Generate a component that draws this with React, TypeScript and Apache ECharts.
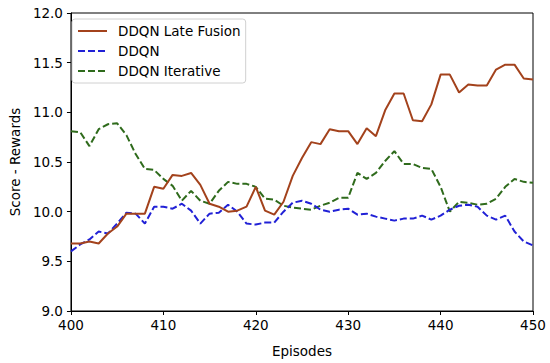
import React, { useEffect, useRef } from "react";
import * as echarts from "echarts";

const episodes: number[] = Array.from({ length: 51 }, (_, i) => 400 + i);

const lateFusion: number[] = [
  9.68, 9.68, 9.70, 9.68, 9.78, 9.85, 9.98, 9.98, 9.98, 10.25,
  10.23, 10.37, 10.36, 10.39, 10.27, 10.08, 10.05, 10.00, 10.01, 10.05,
  10.25, 10.01, 9.97, 10.10, 10.36, 10.54, 10.70, 10.68, 10.83, 10.81,
  10.81, 10.68, 10.84, 10.76, 11.02, 11.19, 11.19, 10.92, 10.91, 11.08,
  11.38, 11.38, 11.20, 11.28, 11.27, 11.27, 11.43, 11.48, 11.48, 11.34,
  11.33,
];

const ddqn: number[] = [
  9.60, 9.67, 9.72, 9.80, 9.78, 9.88, 9.99, 9.98, 9.88, 10.05,
  10.05, 10.03, 10.08, 10.01, 9.88, 9.98, 9.99, 10.07, 10.00, 9.88,
  9.87, 9.89, 9.89, 10.00, 10.09, 10.11, 10.08, 10.02, 10.00, 10.02,
  10.03, 9.97, 9.98, 9.95, 9.93, 9.91, 9.93, 9.93, 9.96, 9.92,
  9.96, 10.02, 10.06, 10.07, 10.05, 9.96, 9.92, 9.96, 9.80, 9.70,
  9.66,
];

const iterative: number[] = [
  10.81, 10.80, 10.66, 10.83, 10.88, 10.89, 10.77, 10.58, 10.43, 10.42,
  10.33, 10.26, 10.11, 10.21, 10.11, 10.08, 10.21, 10.30, 10.28, 10.28,
  10.25, 10.13, 10.12, 10.06, 10.04, 10.03, 10.02, 10.06, 10.09, 10.14,
  10.14, 10.39, 10.33, 10.39, 10.51, 10.61, 10.48, 10.48, 10.44, 10.43,
  10.25, 10.00, 10.10, 10.09, 10.07, 10.08, 10.13, 10.25, 10.33, 10.30,
  10.29,
];

const seriesNames = ["DDQN Late Fusion", "DDQN", "DDQN Iterative"];
const seriesColors = ["#a3421c", "#2121d6", "#2f6b1c"];

const FONT = "DejaVu Sans";

export default function App() {
  const ref = useRef<HTMLDivElement>(null);

  useEffect(() => {
    if (!ref.current) return;
    const chart = echarts.init(ref.current, undefined, { renderer: "svg" });
    const pairs = (vals: number[]) => episodes.map((e, i) => [e, vals[i]]);
    const lineTypes: any[] = ["solid", [7, 3], [7, 3]];
    const datasets = [lateFusion, ddqn, iterative];

    chart.setOption({
      animation: false,
      backgroundColor: "#ffffff",
      textStyle: { fontFamily: FONT },
      grid: {
        left: 63,
        right: 17,
        top: 13,
        bottom: 47,
        show: true,
        borderColor: "#000",
        borderWidth: 1,
        backgroundColor: "transparent",
      },
      legend: {
        orient: "vertical",
        left: 72,
        top: 19,
        itemWidth: 29,
        itemHeight: 14,
        itemGap: 6,
        padding: [5, 5, 5, 5],
        borderColor: "#d0d0d0",
        borderWidth: 1,
        borderRadius: 3,
        backgroundColor: "rgba(255,255,255,0.8)",
        data: seriesNames,
        itemStyle: { opacity: 0 },
        textStyle: {
          fontFamily: FONT,
          fontSize: 13.5,
          color: "#000",
          padding: [0, 0, 0, 6],
        },
      },
      xAxis: {
        type: "value",
        min: 400,
        max: 450,
        interval: 10,
        name: "Episodes",
        nameLocation: "middle",
        nameGap: 33,
        nameTextStyle: { fontFamily: FONT, fontSize: 13.5, color: "#000" },
        axisLine: { show: true, lineStyle: { color: "#000", width: 1 } },
        axisTick: { show: true, length: 4, lineStyle: { color: "#000" } },
        axisLabel: { fontFamily: FONT, fontSize: 13.5, color: "#000", margin: 7 },
        splitLine: { show: false },
      },
      yAxis: {
        type: "value",
        min: 9,
        max: 12,
        interval: 0.5,
        name: "Score - Rewards",
        nameLocation: "middle",
        nameGap: 47,
        nameTextStyle: { fontFamily: FONT, fontSize: 13.5, color: "#000" },
        axisLine: { show: true, lineStyle: { color: "#000", width: 1 } },
        axisTick: { show: true, length: 4, lineStyle: { color: "#000" } },
        axisLabel: {
          fontFamily: FONT,
          fontSize: 13.5,
          color: "#000",
          margin: 8,
          formatter: (v: number) => v.toFixed(1),
        },
        splitLine: { show: false },
      },
      series: seriesNames.map((name, k) => ({
        name,
        type: "line",
        data: pairs(datasets[k]),
        showSymbol: false,
        symbol: "none",
        color: seriesColors[k],
        lineStyle: { color: seriesColors[k], width: 2, type: lineTypes[k] },
        z: 3 - k,
      })),
    });

    return () => chart.dispose();
  }, []);

  return (
    <div
      ref={ref}
      style={{ position: "fixed", left: 0, top: 0, width: 550, height: 363 }}
    />
  );
}
